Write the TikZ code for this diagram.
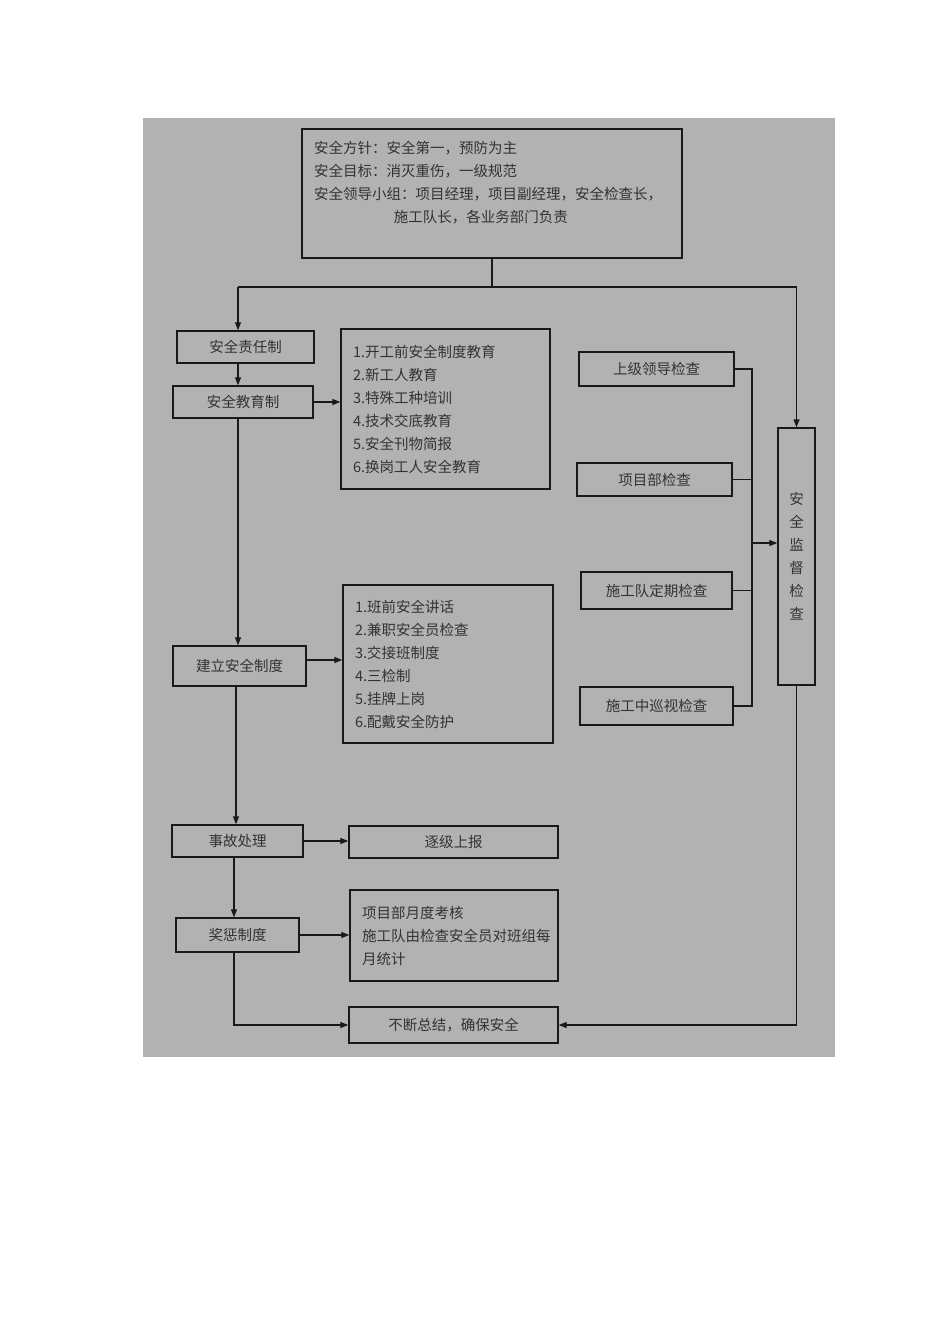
\documentclass[tikz,border=0pt]{standalone}
\usepackage{fontspec}
\newfontfamily\cjk{Noto Sans CJK SC}
\usetikzlibrary{arrows.meta}
\usetikzlibrary{positioning}
\tikzset{
    Box/.style = {rectangle, draw=black!90, line width=1.4pt, align=center, inner sep=0pt,
                  font=\cjk\fontsize{14.5pt}{23pt}\selectfont, text=black!80},
    listbox/.style = {Box, align=left, inner xsep=12pt},
    arr/.style = {-{Triangle[length=8pt,width=6pt]}, line width=1.2pt, draw=black!90},
    ln/.style = {-, line width=1.2pt, draw=black!90},
}

\begin{document}
\begin{tikzpicture}[x=1pt,y=-1pt]
\useasboundingbox (0,0) rectangle (950,1344);
\fill[white] (0,0) rectangle (950,1344);
\fill[black!30] (143,118) rectangle (835,1057);
%
\node[listbox, minimum width=380pt, minimum height=129pt, text width=356pt] at (492,193.5) (top)
    {安全方针：安全第一，预防为主\\
     安全目标：消灭重伤，一级规范\\
     安全领导小组：项目经理，项目副经理，安全检查长，\\
     \hspace*{5.5em}施工队长，各业务部门负责\\
     \mbox{}};
%
\node[Box, minimum width=137pt, minimum height=32pt] at (245.5,347) (resp) {安全责任制};
\node[Box, minimum width=140pt, minimum height=32pt] at (243,402) (edu) {安全教育制};
\node[Box, minimum width=133pt, minimum height=40pt] at (239.5,666) (rules) {建立安全制度};
\node[Box, minimum width=131pt, minimum height=32pt] at (237.5,841) (acc) {事故处理};
\node[Box, minimum width=123pt, minimum height=34pt] at (237.5,935) (reward) {奖惩制度};
%
\node[listbox, minimum width=209pt, minimum height=160pt, text width=185pt] at (445.5,409) (list1)
    {1.开工前安全制度教育\\2.新工人教育\\3.特殊工种培训\\4.技术交底教育\\5.安全刊物简报\\6.换岗工人安全教育};
\node[listbox, minimum width=210pt, minimum height=158pt, text width=186pt] at (448,664) (list2)
    {1.班前安全讲话\\2.兼职安全员检查\\3.交接班制度\\4.三检制\\5.挂牌上岗\\6.配戴安全防护};
\node[Box, minimum width=209pt, minimum height=32pt] at (453.5,842) (report) {逐级上报};
\node[listbox, minimum width=208pt, minimum height=91pt, text width=184pt] at (454,935.5) (rwbox)
    {项目部月度考核\\施工队由检查安全员对班组每\\月统计};
\node[Box, minimum width=209pt, minimum height=36pt] at (453.5,1025) (final) {不断总结，确保安全};
%
\node[Box, minimum width=155pt, minimum height=34pt] at (656.5,369) (chk1) {上级领导检查};
\node[Box, minimum width=155pt, minimum height=33pt] at (654.5,479.5) (chk2) {项目部检查};
\node[Box, minimum width=151pt, minimum height=37pt] at (656.5,590.5) (chk3) {施工队定期检查};
\node[Box, minimum width=153pt, minimum height=38pt] at (656.5,706) (chk4) {施工中巡视检查};
\node[Box, minimum width=37pt, minimum height=257pt] at (796.5,556.5) (supv) {安\\全\\监\\督\\检\\查};
%
\coordinate (bus) at (0,287);
\coordinate (sp) at (238,0);
\coordinate (sp2) at (236,0);
\coordinate (sp3) at (234,0);
\coordinate (rb) at (752,0);
\coordinate (rm) at (752,543);
%
\draw[ln] (top.south) -- (top.south |- bus);
\draw[ln] (sp |- bus) -- (supv.north |- bus);
\draw[arr] (sp |- bus) -- (resp.north -| sp);
\draw[arr] (supv.north |- bus) -- (supv.north);
%
\draw[arr] (resp.south -| sp) -- (edu.north -| sp);
\draw[arr] (edu.east) -- (edu.east -| list1.west);
\draw[arr] (edu.south -| sp) -- (rules.north -| sp);
\draw[arr] ([yshift=6pt]rules.east) -- ([yshift=6pt]rules.east -| list2.west);
\draw[arr] (rules.south -| sp2) -- (acc.north -| sp2);
\draw[arr] (acc.east) -- (acc.east -| report.west);
\draw[arr] (acc.south -| sp3) -- (reward.north -| sp3);
\draw[arr] (reward.east) -- (reward.east -| rwbox.west);
\draw[arr] (reward.south -| sp3) |- (final.west);
\draw[arr] (supv.south) |- (final.east);
%
\draw[ln] (chk1.east) -- (chk1.east -| rb) -- (chk4.east -| rb) -- (chk4.east);
\draw[ln] (chk2.east) -- (chk2.east -| rb);
\draw[ln] (chk3.east) -- (chk3.east -| rb);
\draw[arr] (rm) -- (rm -| supv.west);
\end{tikzpicture}
\end{document}
